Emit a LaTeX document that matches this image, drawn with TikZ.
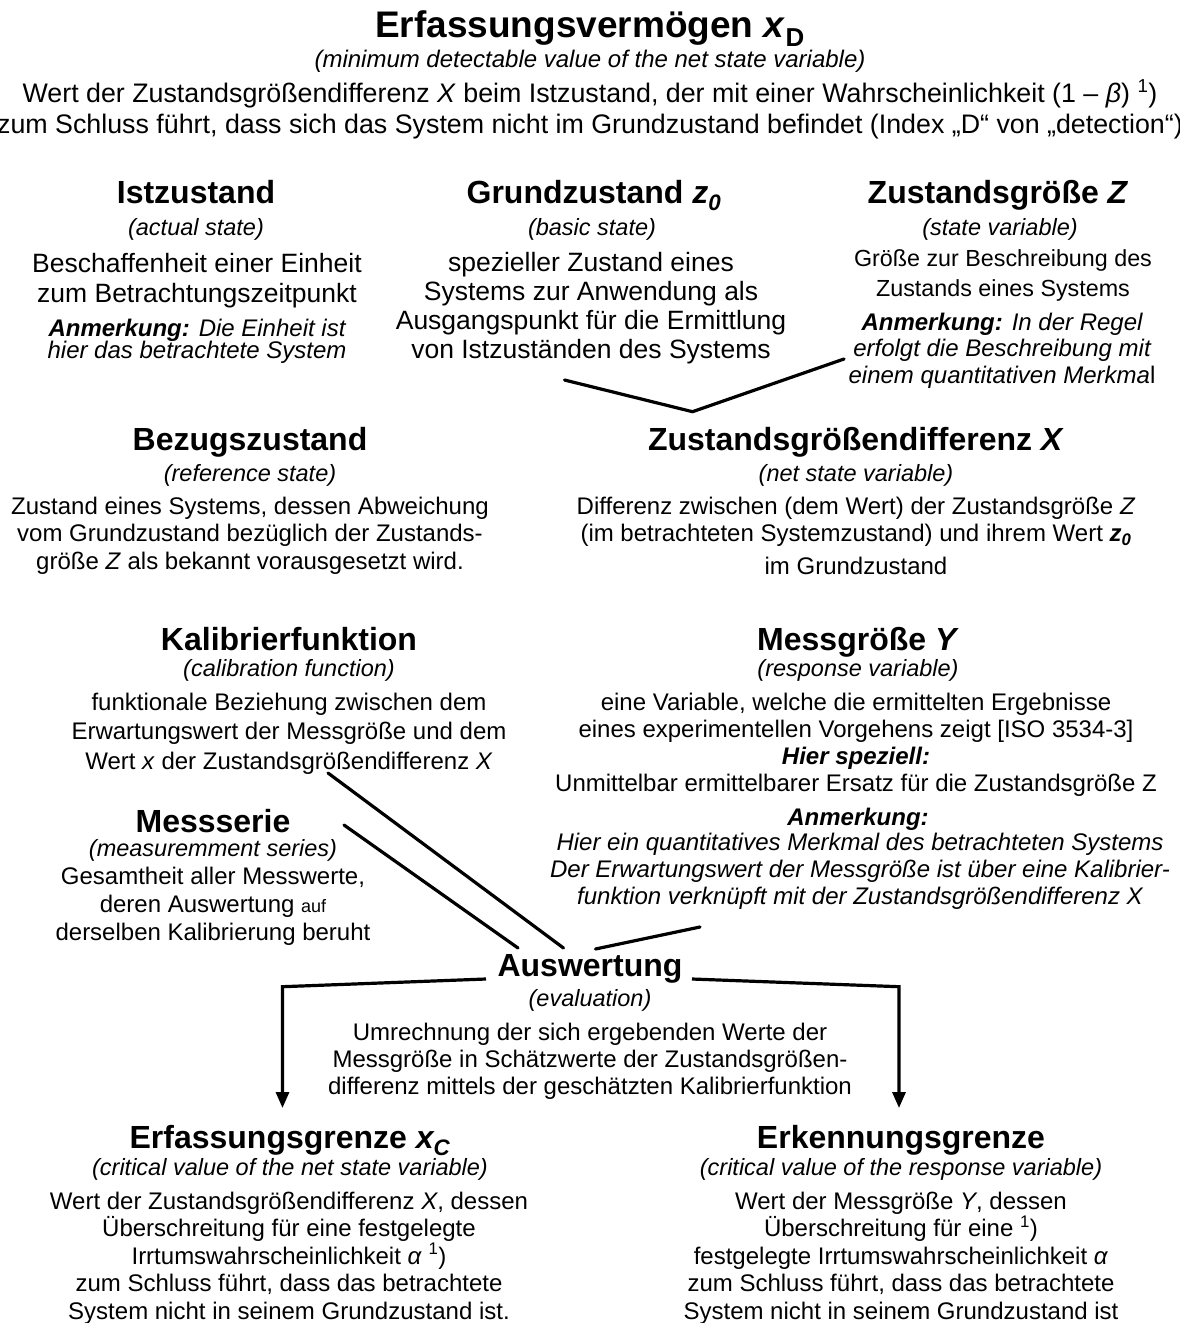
\documentclass[tikz,border=0pt]{standalone}
\usepackage{fontspec}
\setmainfont{Liberation Sans}
\usetikzlibrary{arrows.meta}
\begin{document}
\begin{tikzpicture}[x=1pt,y=-1pt,
  every node/.style={inner sep=0pt, outer sep=0pt, anchor=base, align=center},
  ttl/.style={font=\fontsize{32}{36}\selectfont\bfseries},
  sub/.style={font=\fontsize{23.5}{27}\selectfont\itshape},
  bodyU/.style={font=\fontsize{26.5}{29}\selectfont},
  bodyL/.style={font=\fontsize{24}{27.5}\selectfont},
  note/.style={font=\fontsize{24}{27}\selectfont\itshape},
  conn/.style={line width=3.2pt, line cap=round, line join=round},
  arr/.style={line width=3.2pt, line join=miter, -{Triangle[length=16pt,width=13pt]}},
]
\useasboundingbox (0,0) rectangle (1179,1323);

% header (multi-line nodes are placed by the baseline of their last line)
\node[font=\fontsize{37}{40}\selectfont\bfseries] (head) at (590,37) {Erfassungsvermögen \textit{x}\textsubscript{D}};
\node[font=\fontsize{24}{27}\selectfont\itshape] (head-en) at (590,67) {(minimum detectable value of the net state variable)};
\node[font=\fontsize{26.8}{31.5}\selectfont] (head-def) at (590,133.5) {Wert der Zustandsgrößendifferenz \textit{X} beim Istzustand, der mit einer Wahrscheinlichkeit (1 – \textit{β}) \textsuperscript{1})\\zum Schluss führt, dass sich das System nicht im Grundzustand befindet (Index „D“ von „detection“)};

% Istzustand
\node[ttl] (ist) at (196,203) {Istzustand};
\node[sub] (ist-en) at (196,235) {(actual state)};
\node[bodyU, font=\fontsize{26.5}{30}\selectfont] (ist-def) at (197,302) {Beschaffenheit einer Einheit\\zum Betrachtungszeitpunkt};
\node[note, font=\fontsize{24}{22.5}\selectfont\itshape] (ist-note) at (197,358.5) {\textbf{Anmerkung:} Die Einheit ist\\hier das betrachtete System};

% Grundzustand
\node[ttl] (grund) at (594,203) {Grundzustand \textit{z\textsubscript{0}}};
\node[sub] (grund-en) at (592,235) {(basic state)};
\node[bodyU, font=\fontsize{26.5}{29}\selectfont] (grund-def) at (591,358) {spezieller Zustand eines\\Systems zur Anwendung als\\Ausgangspunkt für die Ermittlung\\von Istzuständen des Systems};

% Zustandsgroesse
\node[ttl] (zg) at (998,203) {Zustandsgröße \textit{Z}};
\node[sub] (zg-en) at (1000,235) {(state variable)};
\node[font=\fontsize{23.3}{30}\selectfont] (zg-def) at (1003,296) {Größe zur Beschreibung des\\Zustands eines Systems};
\node[note, font=\fontsize{24}{26.8}\selectfont\itshape] (zg-note) at (1002,383.6) {\textbf{Anmerkung:} In der Regel\\erfolgt die Beschreibung mit\\einem quantitativen Merkma{\upshape l}};

% connectors to net state variable
\coordinate (grund-out) at (564.5,380);
\coordinate (zg-out) at (844,359);
\coordinate (apex) at (692.5,411.7);
\draw[conn] (grund-out) -- (apex) -- (zg-out);

% Bezugszustand
\node[ttl] (bez) at (250,450) {Bezugszustand};
\node[sub] (bez-en) at (250,481) {(reference state)};
\node[bodyL] (bez-def) at (250,569) {Zustand eines Systems, dessen Abweichung\\vom Grundzustand bezüglich der Zustands-\\größe \textit{Z} als bekannt vorausgesetzt wird.};

% Zustandsgroessendifferenz
\node[ttl] (zgd) at (856,450) {Zustandsgrößendifferenz \textit{X}};
\node[sub] (zgd-en) at (856,481) {(net state variable)};
\node[bodyL] (zgd-def) at (856,574) {Differenz zwischen (dem Wert) der Zustandsgröße \textit{Z}\\(im betrachteten Systemzustand) und ihrem Wert \textbf{\textit{z\textsubscript{0}}}\\[5pt]im Grundzustand};

% Kalibrierfunktion
\node[ttl] (kal) at (289,650) {Kalibrierfunktion};
\node[sub] (kal-en) at (289,676) {(calibration function)};
\node[bodyL, font=\fontsize{24}{29.5}\selectfont] (kal-def) at (289,769) {funktionale Beziehung zwischen dem\\Erwartungswert der Messgröße und dem\\Wert \textit{x} der Zustandsgrößendifferenz \textit{X}};

% Messgroesse
\node[ttl] (mg) at (858,650) {Messgröße \textit{Y}};
\node[sub] (mg-en) at (858,676) {(response variable)};
\node[bodyL, font=\fontsize{24}{27.3}\selectfont] (mg-def) at (856,791.9) {eine Variable, welche die ermittelten Ergebnisse\\eines experimentellen Vorgehens zeigt [ISO 3534-3]\\\textbf{\textit{Hier speziell:}}\\Unmittelbar ermittelbarer Ersatz für die Zustandsgröße Z};
\node[note, font=\fontsize{24}{27}\selectfont\itshape\bfseries] (mg-anm) at (858,825) {Anmerkung:};
\node[note] (mg-note) at (860,904) {Hier ein quantitatives Merkmal des betrachteten Systems\\Der Erwartungswert der Messgröße ist über eine Kalibrier-\\funktion verknüpft mit der Zustandsgrößendifferenz X};

% Messserie
\node[ttl] (ms) at (213,832) {Messserie};
\node[sub] (ms-en) at (213,856) {(measuremment series)};
\node[bodyL, font=\fontsize{24}{28}\selectfont] (ms-def) at (213,940) {Gesamtheit aller Messwerte,\\deren Auswertung {\fontsize{18}{20}\selectfont auf}\\derselben Kalibrierung beruht};

% Auswertung
\node[ttl] (aus) at (590,976) {Auswertung};
\node[sub] (aus-en) at (590,1006) {(evaluation)};
\node[bodyL, font=\fontsize{24}{27}\selectfont] (aus-def) at (590,1094) {Umrechnung der sich ergebenden Werte der\\Messgröße in Schätzwerte der Zustandsgrößen-\\differenz mittels der geschätzten Kalibrierfunktion};

% connectors into Auswertung
\coordinate (kal-out) at (328,773);
\coordinate (kal-in) at (563.5,948);
\coordinate (ms-out) at (344,825);
\coordinate (ms-in) at (518,948);
\coordinate (mg-out) at (700,927);
\coordinate (mg-in) at (595.5,949);
\draw[conn] (kal-out) -- (kal-in);
\draw[conn] (ms-out) -- (ms-in);
\draw[conn] (mg-out) -- (mg-in);

% Erfassungsgrenze
\node[ttl] (eg) at (290,1148) {Erfassungsgrenze \textit{x\textsubscript{C}}};
\node[sub] (eg-en) at (290,1175) {(critical value of the net state variable)};
\node[bodyL] (eg-def) at (289,1319) {Wert der Zustandsgrößendifferenz \textit{X}, dessen\\Überschreitung für eine festgelegte\\Irrtumswahrscheinlichkeit \textit{α} \textsuperscript{1})\\zum Schluss führt, dass das betrachtete\\System nicht in seinem Grundzustand ist.};

% Erkennungsgrenze
\node[ttl] (kg) at (901,1148) {Erkennungsgrenze};
\node[sub] (kg-en) at (901,1175) {(critical value of the response variable)};
\node[bodyL] (kg-def) at (901,1319) {Wert der Messgröße \textit{Y}, dessen\\Überschreitung für eine \textsuperscript{1})\\festgelegte Irrtumswahrscheinlichkeit \textit{α}\\zum Schluss führt, dass das betrachtete\\System nicht in seinem Grundzustand ist};

% bracket arrows from Auswertung
\coordinate (aus-l) at (486,979);
\coordinate (aus-r) at (692,979);
\coordinate (cl) at (282.5,986.7);
\coordinate (cr) at (899,986.7);
\coordinate (eg-in) at (282.5,1108);
\coordinate (kg-in) at (899,1108);
\draw[arr] (aus-l) -- (cl) -- (eg-in);
\draw[arr] (aus-r) -- (cr) -- (kg-in);
\end{tikzpicture}
\end{document}
